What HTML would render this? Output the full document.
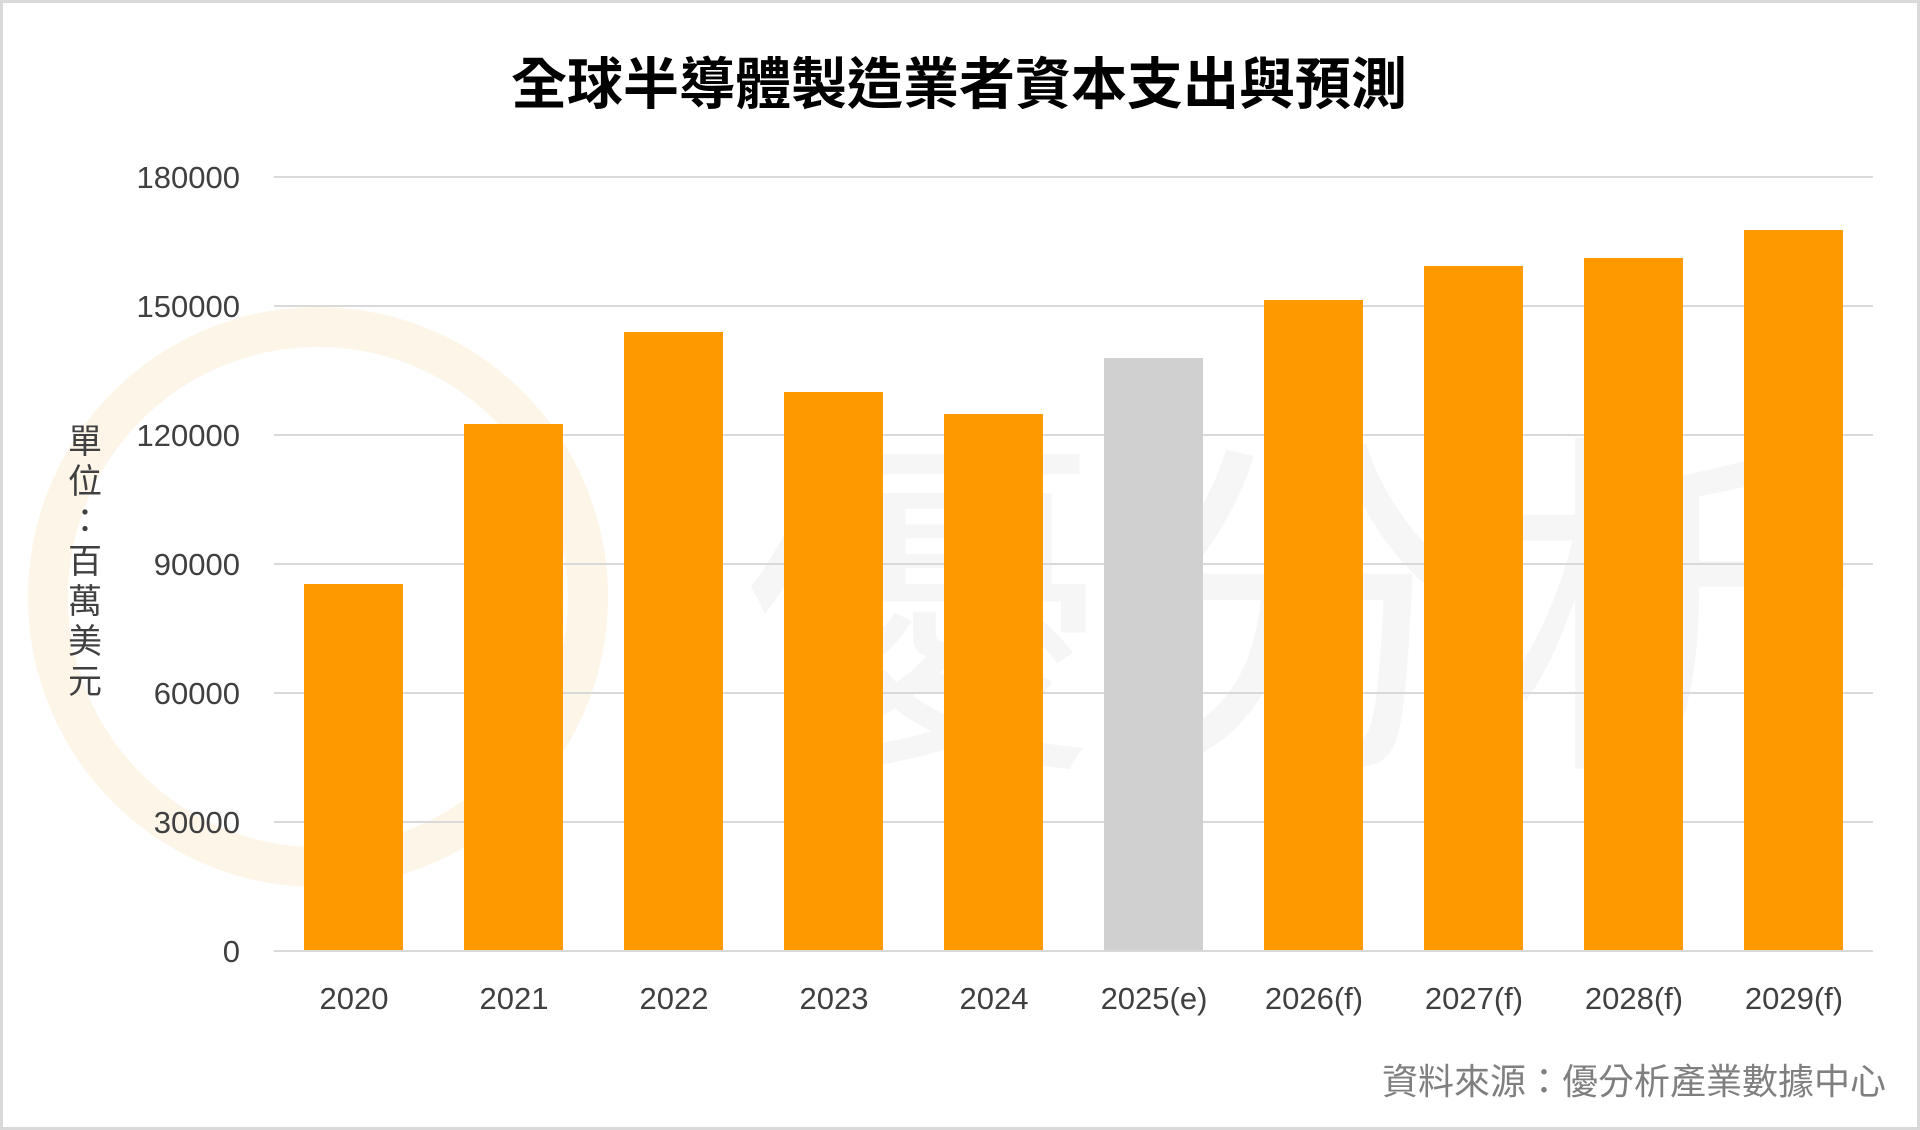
<!DOCTYPE html>
<html><head><meta charset="utf-8"><style>
html,body{margin:0;padding:0;background:#fff}
svg{display:block}
</style></head><body>
<svg width="1920" height="1130" viewBox="0 0 1920 1130" xmlns="http://www.w3.org/2000/svg" font-family="'Liberation Sans','Noto Sans CJK TC',sans-serif">
<rect x="1.5" y="1.5" width="1917" height="1127" fill="#fff" stroke="#d9d9d9" stroke-width="3"/>
<circle cx="318" cy="597" r="270" fill="none" stroke="#fdf3e2" stroke-width="40" opacity="0.8"/>
<text x="1310" y="740" font-size="360" fill="#000" fill-opacity="0.035" text-anchor="middle" letter-spacing="20">優分析</text>
<text x="959" y="104" font-size="56" font-weight="bold" fill="#000" text-anchor="middle">全球半導體製造業者資本支出與預測</text>
<g stroke="#d9d9d9" stroke-width="2">
<line x1="274" y1="177" x2="1873" y2="177"/>
<line x1="274" y1="306" x2="1873" y2="306"/>
<line x1="274" y1="435" x2="1873" y2="435"/>
<line x1="274" y1="564" x2="1873" y2="564"/>
<line x1="274" y1="693" x2="1873" y2="693"/>
<line x1="274" y1="822" x2="1873" y2="822"/>
</g>
<g font-size="31" fill="#404040" text-anchor="end">
<text x="240" y="188">180000</text>
<text x="240" y="317">150000</text>
<text x="240" y="446">120000</text>
<text x="240" y="575">90000</text>
<text x="240" y="704">60000</text>
<text x="240" y="833">30000</text>
<text x="240" y="962">0</text>
</g>
<g fill="#ff9900">
<rect x="304" y="584" width="99" height="367"/>
<rect x="464" y="424" width="99" height="527"/>
<rect x="624" y="332" width="99" height="619"/>
<rect x="784" y="392" width="99" height="559"/>
<rect x="944" y="414" width="99" height="537"/>
<rect x="1104" y="358" width="99" height="593" fill="#d0d0d0"/>
<rect x="1264" y="300" width="99" height="651"/>
<rect x="1424" y="266" width="99" height="685"/>
<rect x="1584" y="258" width="99" height="693"/>
<rect x="1744" y="230" width="99" height="721"/>
</g>
<line x1="274" y1="951" x2="1873" y2="951" stroke="#d9d9d9" stroke-width="2"/>
<g font-size="31" fill="#404040" text-anchor="middle">
<text x="354" y="1009">2020</text>
<text x="514" y="1009">2021</text>
<text x="674" y="1009">2022</text>
<text x="834" y="1009">2023</text>
<text x="994" y="1009">2024</text>
<text x="1154" y="1009">2025(e)</text>
<text x="1314" y="1009">2026(f)</text>
<text x="1474" y="1009">2027(f)</text>
<text x="1634" y="1009">2028(f)</text>
<text x="1794" y="1009">2029(f)</text>
</g>
<g font-size="34" fill="#404040" text-anchor="middle">
<text x="85" y="453">單</text>
<text x="85" y="493">位</text>
<text x="85" y="533">：</text>
<text x="85" y="573">百</text>
<text x="85" y="613">萬</text>
<text x="85" y="653">美</text>
<text x="85" y="693">元</text>
</g>
<text x="1886" y="1094" font-size="36" fill="#7f7f7f" text-anchor="end">資料來源：優分析產業數據中心</text>
</svg>
</body></html>
